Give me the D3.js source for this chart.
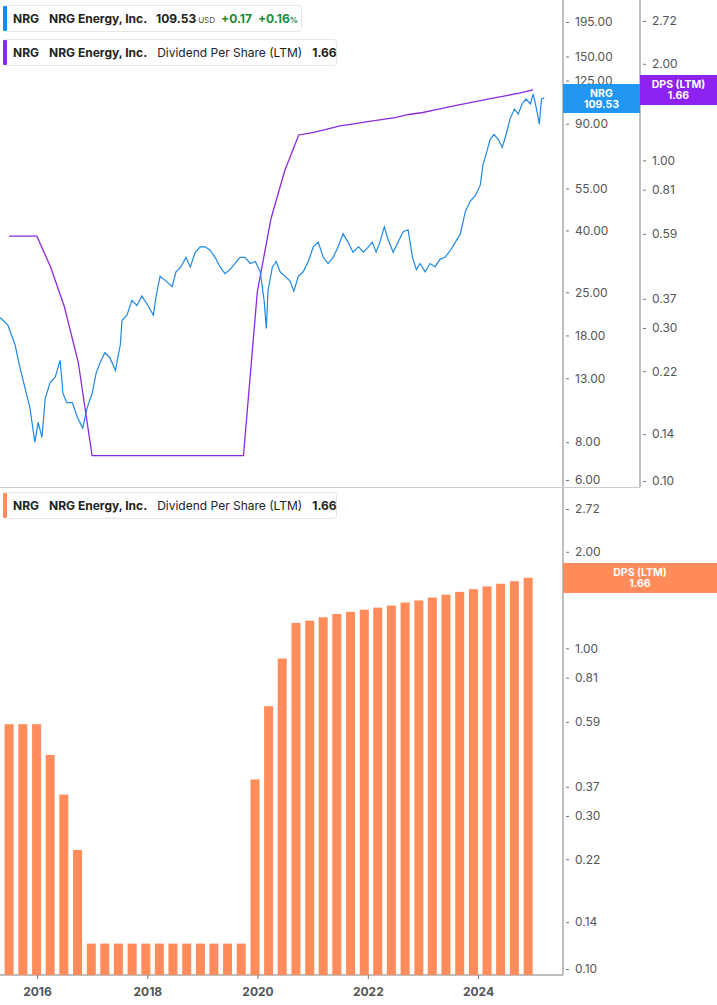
<!DOCTYPE html>
<html><head><meta charset="utf-8">
<script src="https://cdn.jsdelivr.net/npm/d3@7"></script>
<style>body{margin:0;background:#fff;font-family:Inter,"Open Sans",sans-serif}</style>
</head><body><svg id="c" width="717" height="1005"></svg>
<script>
// quarterly dividend per share (LTM), 2015-06-30 .. 2024-12-31
const dpsDates = d3.range(39).map(i => new Date(2015, 5 + 3*i + 1, 0));
const dpsValues = [0.58,0.58,0.58,0.465,0.35,0.235,
  0.12,0.12,0.12,0.12,0.12,0.12,0.12,0.12,0.12,0.12,0.12,0.12,
  0.39,0.66,0.93,1.20,1.22,1.25,1.28,1.30,1.32,1.34,1.36,1.39,1.41,1.44,1.47,1.50,1.53,1.56,1.59,1.62,1.66];
// price (decimal year, USD)
const priceYears = [2015.33,2015.47,2015.60,2015.69,2015.78,2015.87,2015.96,2016.02,2016.09,2016.15,2016.24,2016.33,2016.42,2016.47,2016.54,2016.64,2016.74,2016.83,2016.91,2017.00,2017.07,2017.14,2017.23,2017.32,2017.42,2017.51,2017.54,2017.63,2017.72,2017.81,2017.90,2018.01,2018.11,2018.16,2018.23,2018.34,2018.45,2018.52,2018.61,2018.70,2018.78,2018.87,2018.96,2019.05,2019.14,2019.23,2019.32,2019.41,2019.50,2019.59,2019.68,2019.77,2019.87,2019.96,2020.05,2020.12,2020.16,2020.19,2020.27,2020.34,2020.41,2020.50,2020.59,2020.66,2020.74,2020.83,2020.92,2021.01,2021.10,2021.19,2021.28,2021.37,2021.46,2021.55,2021.64,2021.73,2021.83,2021.92,2022.01,2022.08,2022.15,2022.22,2022.30,2022.37,2022.46,2022.55,2022.64,2022.73,2022.81,2022.88,2022.95,2023.04,2023.13,2023.22,2023.31,2023.40,2023.50,2023.59,2023.68,2023.77,2023.86,2023.95,2024.04,2024.09,2024.17,2024.22,2024.29,2024.37,2024.44,2024.51,2024.58,2024.66,2024.73,2024.80,2024.87,2024.95,2025.00,2025.06,2025.11,2025.15,2025.20];
const priceValues = [20.6,19.5,16.8,14.1,12.1,10.4,8.0,9.3,8.3,11.2,12.6,13.1,14.9,11.6,10.8,10.8,9.6,8.9,10.4,11.6,13.5,14.6,15.8,15.2,13.8,16.8,20.2,21.0,23.5,22.6,24.3,22.6,21.0,24.3,28.2,27.2,26.1,29.2,30.3,32.6,30.3,33.9,35.3,35.3,34.4,32.6,30.3,28.8,29.7,31.1,32.6,32.6,31.1,31.6,29.2,23.5,19.0,25.2,30.3,31.6,29.2,28.2,27.2,25.2,28.2,29.2,31.6,35.3,36.6,32.6,31.1,32.6,35.3,39.0,36.6,33.9,35.3,33.9,35.3,36.6,33.9,36.6,41.1,37.2,33.9,36.6,39.6,40.2,32.6,29.7,31.1,29.2,31.1,30.3,32.1,32.6,34.4,36.6,39.0,46.2,50.0,52.1,56.3,65.8,73.9,79.8,82.9,79.8,75.2,82.9,93.2,100.6,96.9,104.6,108.6,104.6,112.8,100.6,89.7,108.6,109.53];
const priceTicks = [6,8,13,18,25,40,55,90,125,150,195];
const dpsTicks = [0.10,0.14,0.22,0.30,0.37,0.59,0.81,1.00,2.00,2.72];
const yearTicks = [2016,2018,2020,2022,2024];

const svg = d3.select("#c");
const yd = y => new Date(Math.floor(y),0,1).getTime() + (y%1)*365.25*864e5;
const x = d3.scaleTime().domain([new Date(yd(2016)), new Date(yd(2024))]).range([37,478]);
const yP = d3.scaleLog().domain([6,195]).range([480,22]);
const yD = d3.scaleLog().domain([0.10,2.72]).range([481,21]);
const yB = d3.scaleLog().domain([0.10,2.72]).range([969,509]);
const grey="#555";

svg.append("line").attr("x1",563).attr("x2",563).attr("y1",0).attr("y2",487).attr("stroke","#aaa").attr("stroke-width",1.5);
svg.append("line").attr("x1",640).attr("x2",640).attr("y1",0).attr("y2",487).attr("stroke","#aaa").attr("stroke-width",1.5);
svg.append("line").attr("x1",0).attr("x2",640).attr("y1",487.5).attr("y2",487.5).attr("stroke","#ccc");
svg.append("line").attr("x1",563).attr("x2",563).attr("y1",488).attr("y2",975).attr("stroke","#aaa").attr("stroke-width",1.5);
svg.append("line").attr("x1",0).attr("x2",563).attr("y1",975).attr("y2",975).attr("stroke","#aaa").attr("stroke-width",1.5);

function rAxis(scale, ticks, xpos, fmt){
  const g = svg.append("g").attr("transform",`translate(${xpos},0)`);
  g.call(d3.axisRight(scale).tickValues(ticks).tickFormat(fmt).tickSize(3).tickPadding(6));
  g.select(".domain").remove();
  g.selectAll("line").attr("stroke","#777");
  g.selectAll("text").attr("fill",grey).style("font-size","12px").style("font-family","Inter,sans-serif");
}
rAxis(yP, priceTicks, 566, d3.format(".2f"));
rAxis(yD, dpsTicks, 643, d3.format(".2f"));
rAxis(yB, dpsTicks, 566, d3.format(".2f"));

const xa = svg.append("g").attr("transform","translate(0,975)")
  .call(d3.axisBottom(x).tickValues(yearTicks.map(v=>new Date(v,0,1))).tickFormat(d3.timeFormat("%Y")).tickSize(4).tickPadding(8));
xa.select(".domain").remove();
xa.selectAll("line").attr("stroke","#777");
xa.selectAll("text").attr("fill",grey).style("font-size","12px").style("font-weight","700").style("font-family","Inter,sans-serif");

svg.append("g").selectAll("rect").data(dpsValues).join("rect")
  .attr("x",(d,i)=>x(dpsDates[i])-4.5-i*0.13).attr("width",9)
  .attr("y",d=>yB(d)).attr("height",d=>975-yB(d)).attr("fill","#ff8c5a");

svg.append("path").datum(dpsValues).attr("fill","none").attr("stroke","#8a2be2").attr("stroke-width",1.3)
  .attr("d",d3.line().x((d,i)=>x(dpsDates[i])).y(d=>yD(d)));
svg.append("path").datum(priceValues).attr("fill","none").attr("stroke","#1e88e5").attr("stroke-width",1.2)
  .attr("d",d3.line().x((d,i)=>x(new Date(yd(priceYears[i])))).y(d=>yP(d)));

function tag(x0,y0,w,h,color,l1,l2){
  svg.append("rect").attr("x",x0).attr("y",y0).attr("width",w).attr("height",h).attr("fill",color);
  [l1,l2].forEach((t,i)=>svg.append("text").attr("x",x0+w/2).attr("y",y0+12.5+i*11).attr("text-anchor","middle")
    .attr("fill","#fff").style("font-size","10.5px").style("font-weight","700").style("font-family","Inter,sans-serif").text(t));
}
tag(563,84,77,29,"#2196f3","NRG","109.53");
tag(640,75,77,30,"#8e22f0","DPS (LTM)","1.66");
tag(563,563,154,30,"#ff8c5a","DPS (LTM)","1.66");

function legend(y0,w,color,parts){
  svg.append("rect").attr("x",3.5).attr("y",y0+.5).attr("width",w).attr("height",26).attr("rx",3).attr("fill","#fff").attr("stroke","#e6e6e6");
  svg.append("rect").attr("x",3).attr("y",y0+1).attr("width",4).attr("height",25).attr("rx",1).attr("fill",color);
  const t = svg.append("text").attr("x",13).attr("y",y0+18).style("font-size","12px").style("font-family","Inter,sans-serif").attr("fill","#222");
  parts.forEach(p=>t.append("tspan").attr("dx",p[1]||0).style("font-weight",p[2]||"400").style("font-size",p[4]||"12px").attr("fill",p[3]||"#222").text(p[0]));
}
legend(5,298,"#1e88e5",[["NRG",0,"700"],["NRG Energy, Inc.",10,"700"],["109.53",10,"700"],["USD",2,"400","#555","8px"],["+0.17",6,"700","#1a8a3a"],["+0.16",6,"700","#1a8a3a"],["%",0,"700","#1a8a3a","8px"]]);
legend(39,333,"#8a2be2",[["NRG",0,"700"],["NRG Energy, Inc.",10,"700"],["Dividend Per Share (LTM)",10,"400"],["1.66",10,"700"]]);
legend(492,333,"#ff8c5a",[["NRG",0,"700"],["NRG Energy, Inc.",10,"700"],["Dividend Per Share (LTM)",10,"400"],["1.66",10,"700"]]);
</script></body></html>
